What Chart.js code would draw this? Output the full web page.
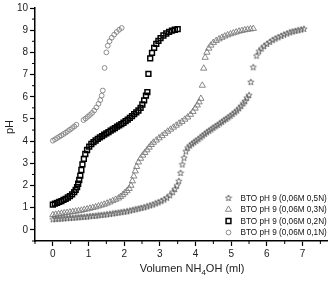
<!DOCTYPE html>
<html>
<head>
<meta charset="utf-8">
<script src="https://cdn.jsdelivr.net/npm/chart.js@4.4.1/dist/chart.umd.min.js"></script>
<style>
  html, body { margin: 0; padding: 0; background: #fff; }
  #wrap { width: 333px; height: 282px; }
</style>
</head>
<body>
<div id="wrap"><canvas id="myChart"></canvas></div>
<script>
// ---- data ----
const seriesNames = [
  'BTO pH 9 (0,06M 0,5N)',
  'BTO pH 9 (0,06M 0,3N)',
  'BTO pH 9 (0,06M 0,2N)',
  'BTO pH 9 (0,06M 0,1N)'
];

// 0,5N (stars)
const starVol = [0, 0.08, 0.16, 0.24, 0.32, 0.4, 0.48, 0.56, 0.64, 0.72, 0.8, 0.88, 0.96, 1.04, 1.12, 1.2,
  1.28, 1.36, 1.44, 1.52, 1.6, 1.68, 1.76, 1.84, 1.92, 2.0, 2.08, 2.16, 2.24, 2.32, 2.4, 2.48, 2.56, 2.64,
  2.72, 2.8, 2.88, 2.96, 3.04, 3.12, 3.2, 3.28, 3.36, 3.42, 3.48, 3.53, 3.58, 3.63, 3.68, 3.73, 3.78, 3.84,
  3.9, 3.96, 4.02, 4.08, 4.14, 4.2, 4.26, 4.32, 4.38, 4.44, 4.5, 4.56, 4.62, 4.68, 4.74, 4.8, 4.86, 4.92,
  4.98, 5.04, 5.1, 5.16, 5.22, 5.28, 5.34, 5.39, 5.44, 5.5, 5.55, 5.62, 5.71, 5.78, 5.85, 5.92, 6.0, 6.08,
  6.16, 6.24, 6.32, 6.4, 6.48, 6.56, 6.64, 6.72, 6.8, 6.88, 6.96, 7.04];
const starPH = [0.48, 0.49, 0.5, 0.51, 0.52, 0.53, 0.54, 0.55, 0.56, 0.57, 0.58, 0.59, 0.6, 0.62, 0.63, 0.64,
  0.66, 0.67, 0.69, 0.7, 0.72, 0.74, 0.76, 0.78, 0.8, 0.82, 0.84, 0.87, 0.9, 0.93, 0.96, 0.99, 1.02, 1.06,
  1.1, 1.14, 1.19, 1.24, 1.3, 1.37, 1.45, 1.56, 1.7, 1.84, 2.0, 2.2, 2.57, 2.95, 3.25, 3.54, 3.7, 3.8,
  3.88, 3.95, 4.02, 4.09, 4.17, 4.25, 4.33, 4.4, 4.47, 4.53, 4.6, 4.67, 4.73, 4.8, 4.87, 4.94, 5.0, 5.07,
  5.14, 5.22, 5.3, 5.38, 5.48, 5.58, 5.7, 5.8, 5.95, 6.07, 6.66, 7.33, 7.85, 8.05, 8.17, 8.28, 8.38, 8.47,
  8.55, 8.62, 8.68, 8.74, 8.8, 8.85, 8.9, 8.94, 8.97, 9.0, 9.03, 9.06];

// 0,3N (triangles)
const triVol = [0, 0.08, 0.16, 0.24, 0.32, 0.4, 0.48, 0.56, 0.64, 0.72, 0.8, 0.88, 0.96, 1.04, 1.12, 1.2,
  1.28, 1.36, 1.44, 1.52, 1.6, 1.68, 1.76, 1.84, 1.9, 1.96, 2.02, 2.08, 2.14, 2.19, 2.23, 2.27, 2.31, 2.35,
  2.4, 2.46, 2.52, 2.58, 2.64, 2.7, 2.76, 2.82, 2.9, 2.98, 3.06, 3.14, 3.22, 3.3, 3.38, 3.46, 3.54, 3.62,
  3.7, 3.78, 3.86, 3.93, 3.99, 4.05, 4.1, 4.15, 4.19, 4.23, 4.27, 4.32, 4.37, 4.43, 4.5, 4.58, 4.66, 4.74,
  4.82, 4.9, 4.98, 5.06, 5.14, 5.22, 5.3, 5.38, 5.46, 5.54, 5.62];
const triPH = [0.68, 0.7, 0.72, 0.74, 0.76, 0.78, 0.8, 0.82, 0.84, 0.86, 0.88, 0.91, 0.94, 0.97, 1.0, 1.03,
  1.07, 1.11, 1.15, 1.2, 1.25, 1.31, 1.37, 1.43, 1.5, 1.58, 1.67, 1.76, 1.86, 2.0, 2.2, 2.42, 2.65, 2.85,
  3.05, 3.22, 3.36, 3.48, 3.6, 3.72, 3.84, 3.94, 4.04, 4.14, 4.24, 4.34, 4.44, 4.53, 4.62, 4.71, 4.8, 4.88,
  4.98, 5.08, 5.2, 5.33, 5.48, 5.62, 5.76, 5.92, 6.51, 7.28, 7.77, 8.0, 8.18, 8.32, 8.44, 8.53, 8.6, 8.67,
  8.73, 8.78, 8.83, 8.87, 8.91, 8.95, 8.98, 9.01, 9.03, 9.05, 9.07];

// 0,2N (squares)
const sqVol = [0, 0.06, 0.12, 0.18, 0.24, 0.3, 0.36, 0.42, 0.48, 0.54, 0.6, 0.64, 0.68, 0.71, 0.74, 0.77,
  0.8, 0.83, 0.87, 0.91, 0.96, 1.02, 1.08, 1.14, 1.2, 1.26, 1.32, 1.38, 1.44, 1.5, 1.56, 1.62, 1.68, 1.74,
  1.8, 1.86, 1.92, 1.98, 2.04, 2.1, 2.16, 2.22, 2.28, 2.34, 2.4, 2.46, 2.51, 2.56, 2.61, 2.65, 2.68, 2.73,
  2.78, 2.84, 2.9, 2.96, 3.02, 3.1, 3.18, 3.26, 3.34, 3.42, 3.5];
const sqPH = [1.14, 1.18, 1.22, 1.26, 1.3, 1.35, 1.4, 1.46, 1.52, 1.6, 1.7, 1.8, 1.93, 2.08, 2.25, 2.45,
  2.7, 2.95, 3.2, 3.42, 3.6, 3.75, 3.87, 3.96, 4.03, 4.1, 4.17, 4.23, 4.29, 4.35, 4.41, 4.47, 4.53, 4.59,
  4.65, 4.71, 4.77, 4.83, 4.9, 4.97, 5.05, 5.13, 5.22, 5.3, 5.38, 5.5, 5.65, 5.84, 6.05, 6.21, 7.03, 7.73,
  7.98, 8.2, 8.38, 8.52, 8.64, 8.76, 8.85, 8.92, 8.98, 9.02, 9.05];

// 0,1N (circles)
const circVol = [0, 0.06, 0.12, 0.18, 0.24, 0.3, 0.36, 0.42, 0.48, 0.54, 0.6, 0.66, 0.86, 0.92, 0.98, 1.04,
  1.1, 1.16, 1.22, 1.28, 1.33, 1.37, 1.4, 1.45, 1.5, 1.54, 1.59, 1.65, 1.72, 1.79, 1.86, 1.93];
const circPH = [4.02, 4.08, 4.14, 4.2, 4.26, 4.32, 4.38, 4.45, 4.52, 4.59, 4.66, 4.74, 4.95, 5.02, 5.1, 5.18,
  5.27, 5.38, 5.52, 5.68, 5.85, 6.05, 6.28, 7.3, 8.0, 8.3, 8.5, 8.66, 8.8, 8.92, 9.02, 9.1];

const xTicks = [0, 1, 2, 3, 4, 5, 6, 7];
const yTicks = [0, 1, 2, 3, 4, 5, 6, 7, 8, 9, 10];
const xMinor = [-0.5, 0.5, 1.5, 2.5, 3.5, 4.5, 5.5, 6.5, 7.5];
const yMinor = [-0.5, 0.5, 1.5, 2.5, 3.5, 4.5, 5.5, 6.5, 7.5, 8.5, 9.5];

// open five pointed star marker
function makeStar(color) {
  const c = document.createElement('canvas');
  c.width = 8; c.height = 8;
  const g = c.getContext('2d');
  g.strokeStyle = color;
  g.lineWidth = 0.8;
  g.beginPath();
  for (let i = 0; i < 10; i++) {
    const r = i % 2 == 0 ? 3.3 : 1.4;
    const a = -Math.PI / 2 + i * Math.PI / 5;
    const px = 4 + r * Math.cos(a), py = 4.2 + r * Math.sin(a);
    if (i == 0) g.moveTo(px, py); else g.lineTo(px, py);
  }
  g.closePath();
  g.stroke();
  return c;
}
const starImg = makeStar('#555');

function pts(xs, ys) {
  return xs.map((v, i) => ({ x: v, y: ys[i] }));
}

const styles = [
  { pointStyle: starImg, radius: 3.5, border: '#555', width: 0.8 },
  { pointStyle: 'triangle', radius: 3.6, border: '#7a7a7a', width: 0.9 },
  { pointStyle: 'rect', radius: 3.4, border: '#000', width: 1.5 },
  { pointStyle: 'circle', radius: 2.4, border: '#808080', width: 0.9 }
];

const data = {
  datasets: [pts(starVol, starPH), pts(triVol, triPH), pts(sqVol, sqPH), pts(circVol, circPH)].map((d, i) => ({
    label: seriesNames[i],
    data: d,
    showLine: false,
    pointStyle: styles[i].pointStyle,
    pointRadius: styles[i].radius,
    pointBorderColor: styles[i].border,
    pointBackgroundColor: 'rgba(0,0,0,0)',
    pointBorderWidth: styles[i].width
  }))
};

function line(ctx, x1, y1, x2, y2) {
  ctx.beginPath(); ctx.moveTo(x1, y1); ctx.lineTo(x2, y2); ctx.stroke();
}

const extras = {
  id: 'extras',
  afterDraw(chart) {
    const ctx = chart.ctx, a = chart.chartArea;
    const xs = chart.scales.x, ys = chart.scales.y;
    ctx.save();
    // minor ticks
    ctx.strokeStyle = '#000';
    ctx.lineWidth = 1;
    xMinor.forEach(v => { const p = xs.getPixelForValue(v); line(ctx, p, a.bottom, p, a.bottom + 3); });
    yMinor.forEach(v => { const p = ys.getPixelForValue(v); line(ctx, a.left - 3, p, a.left, p); });

    // legend in the lower right corner
    ctx.textBaseline = 'middle';
    ctx.textAlign = 'left';
    const rowY = [a.bottom - 43, a.bottom - 31.5, a.bottom - 20, a.bottom - 8.5];
    seriesNames.forEach((name, i) => {
      const st = styles[i];
      ctx.strokeStyle = st.border;
      ctx.fillStyle = 'rgba(0,0,0,0)';
      ctx.lineWidth = st.width;
      Chart.helpers.drawPoint(ctx, { pointStyle: st.pointStyle, radius: st.radius, borderWidth: st.width, rotation: 0 },
        a.right - 99, rowY[i]);
      ctx.fillStyle = '#111';
      ctx.font = '8.2px "Liberation Sans", Arial, sans-serif';
      ctx.fillText(name, a.right - 87, rowY[i] + 0.5);
    });

    // axis titles
    ctx.fillStyle = '#222';
    ctx.font = '11px "Liberation Sans", Arial, sans-serif';
    ctx.textBaseline = 'middle';
    const parts = ['Volumen NH', '4', 'OH (ml)'];
    const sub = '8px "Liberation Sans", Arial, sans-serif';
    const big = ctx.font;
    const w0 = ctx.measureText(parts[0]).width, w2 = ctx.measureText(parts[2]).width;
    ctx.font = sub;
    const w1 = ctx.measureText(parts[1]).width;
    let x = 192 - (w0 + w1 + w2) / 2;
    const ty = 269;
    ctx.font = big; ctx.fillText(parts[0], x, ty); x += w0;
    ctx.font = sub; ctx.fillText(parts[1], x, ty + 4); x += w1;
    ctx.font = big; ctx.fillText(parts[2], x, ty);

    ctx.translate(10, 127);
    ctx.rotate(-Math.PI / 2);
    ctx.textAlign = 'center';
    ctx.fillText('pH', 0, 0);
    ctx.restore();
  }
};

const config = {
  type: 'scatter',
  data: data,
  options: {
    responsive: false,
    animation: false,
    layout: { padding: { top: 5, right: 3, left: 0, bottom: 0 } },
    plugins: { legend: { display: false }, tooltip: { enabled: false } },
    scales: {
      x: {
        type: 'linear',
        min: -0.5,
        max: 7.7,
        afterBuildTicks: s => { s.ticks = xTicks.map(v => ({ value: v })); },
        afterFit: s => { s.height = 41; },
        border: { color: '#000', width: 1.5 },
        grid: { drawOnChartArea: false, tickLength: 5, tickColor: '#000', tickWidth: 1.2 },
        ticks: { color: '#222', padding: 2, font: { family: '"Liberation Sans", Arial', size: 10 }, maxRotation: 0 }
      },
      y: {
        type: 'linear',
        min: -0.5,
        max: 10,
        afterBuildTicks: s => { s.ticks = yTicks.map(v => ({ value: v })); },
        afterFit: s => { s.width = 35; },
        border: { color: '#000', width: 1.5 },
        grid: { drawOnChartArea: false, tickLength: 5, tickColor: '#000', tickWidth: 1.2 },
        ticks: { color: '#222', padding: 2, font: { family: '"Liberation Sans", Arial', size: 10 } }
      }
    }
  },
  plugins: [extras]
};

const cv = document.getElementById('myChart');
cv.width = 333; cv.height = 282;
const myChart = new Chart(cv, config);
</script>
</body>
</html>
